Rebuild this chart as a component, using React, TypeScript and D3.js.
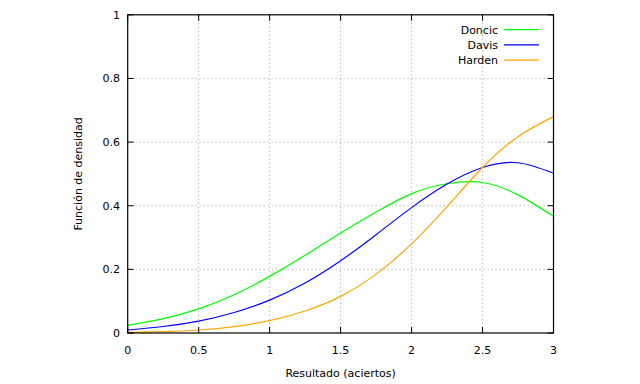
import React from "react";
import * as d3 from "d3";

const xs = [0, 0.25, 0.5, 0.75, 1, 1.25, 1.5, 1.75, 2, 2.25, 2.5, 2.75, 3];
const doncic = [0.024, 0.045, 0.076, 0.12, 0.178, 0.244, 0.314, 0.38, 0.438, 0.469, 0.473, 0.434, 0.367];
const davis = [0.0094, 0.0204, 0.0374, 0.0644, 0.1034, 0.157, 0.227, 0.309, 0.394, 0.468, 0.52, 0.535, 0.502];
const harden = [0.002, 0.0045, 0.0095, 0.02, 0.039, 0.069, 0.115, 0.185, 0.28, 0.397, 0.52, 0.617, 0.68];

const seriesNames = ["Doncic", "Davis", "Harden"];
const seriesColors = ["#00ff00", "#0000ff", "#ffa500"];
const seriesValues = [doncic, davis, harden];

const xTicks = [0, 0.5, 1, 1.5, 2, 2.5, 3];
const yTicks = [0, 0.2, 0.4, 0.6, 0.8, 1];

const xLabel = "Resultado (aciertos)";
const yLabel = "Función de densidad";

export default function App() {
  const W = 640, H = 384;
  const left = 127.7, right = 553.5, top = 14.8, bottom = 333;
  const x = d3.scaleLinear().domain([0, 3]).range([left, right]);
  const y = d3.scaleLinear().domain([0, 1]).range([bottom, top]);
  const font = "'DejaVu Sans', Verdana, sans-serif";
  const tick = 6;

  const line = d3
    .line<number>()
    .x((_, i) => x(xs[i]))
    .y((d) => y(d))
    .curve(d3.curveNatural);

  return (
    <svg
      width={W}
      height={H}
      style={{ position: "absolute", left: 0, top: 0 }}
      fontFamily={font}
      fontSize={11}
    >
      <rect x={0} y={0} width={W} height={H} fill="#fff" />
      {xTicks.slice(1, -1).map((t) => (
        <line key={"gx" + t} x1={x(t)} x2={x(t)} y1={top} y2={bottom} stroke="#a0a0a0" strokeWidth={1} strokeDasharray="1,3" />
      ))}
      {yTicks.slice(1, -1).map((t) => (
        <line key={"gy" + t} x1={left} x2={right} y1={y(t)} y2={y(t)} stroke="#a0a0a0" strokeWidth={1} strokeDasharray="1,3" />
      ))}
      <defs>
        <clipPath id="clip">
          <rect x={left} y={top} width={right - left} height={bottom - top} />
        </clipPath>
      </defs>
      <g clipPath="url(#clip)">
        {seriesValues.map((vals, i) => (
          <path key={seriesNames[i]} d={line(vals) || ""} fill="none" stroke={seriesColors[i]} strokeWidth={1.2} />
        ))}
      </g>
      {xTicks.map((t) => (
        <g key={"tx" + t}>
          <line x1={x(t)} x2={x(t)} y1={bottom} y2={bottom - tick} stroke="#000" />
          <line x1={x(t)} x2={x(t)} y1={top} y2={top + tick} stroke="#000" />
          <text x={x(t)} y={353.5} textAnchor="middle" fill="#000">{String(t)}</text>
        </g>
      ))}
      {yTicks.map((t) => (
        <g key={"ty" + t}>
          <line x1={left} x2={left + tick} y1={y(t)} y2={y(t)} stroke="#000" />
          <line x1={right} x2={right - tick} y1={y(t)} y2={y(t)} stroke="#000" />
          <text x={120} y={y(t) + 4} textAnchor="end" fill="#000">{String(t)}</text>
        </g>
      ))}
      <rect x={left} y={top} width={right - left} height={bottom - top} fill="none" stroke="#000" strokeWidth={1.2} />
      {seriesNames.map((n, i) => {
        const ly = 29.6 + i * 15.3;
        return (
          <g key={"lg" + n}>
            <text x={498} y={ly + 4} textAnchor="end" fill="#000">{n}</text>
            <line x1={504} x2={539} y1={ly} y2={ly} stroke={seriesColors[i]} strokeWidth={1.2} />
          </g>
        );
      })}
      <text x={(left + right) / 2} y={377} textAnchor="middle" fill="#000">{xLabel}</text>
      <text transform={`translate(82,${(top + bottom) / 2}) rotate(-90)`} textAnchor="middle" fill="#000">{yLabel}</text>
    </svg>
  );
}
